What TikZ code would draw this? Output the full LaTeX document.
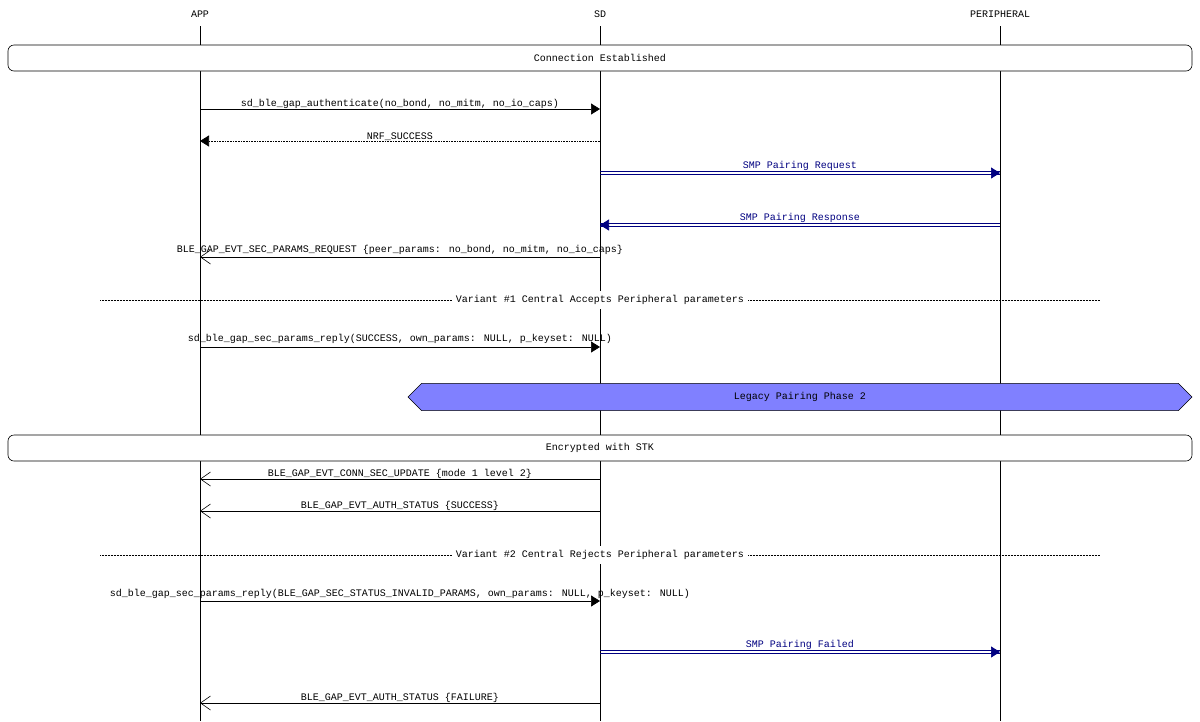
\documentclass[tikz,border=0pt]{standalone}
\usepackage{fontspec}
\setmainfont{Liberation Mono}
\usetikzlibrary{arrows.meta,shapes.misc,calc}
\definecolor{smp}{HTML}{000080}
\definecolor{phase}{HTML}{8080FF}
\tikzset{
  lbl/.style={font=\fontsize{10}{11}\selectfont, inner sep=1pt},
  msg/.style={-{Triangle[length=9pt,width=11pt]}},
  ret/.style={msg, densely dotted},
  evt/.style={-{Straight Barb[length=10pt,width=14pt,line width=0.6pt]}},
  smpline/.style={draw=smp, line width=0.6pt},
  smptip/.style={draw=smp, fill=smp, -{Triangle[length=9pt,width=11pt]}},
  bar/.style={draw, rounded corners=6pt, fill=white, line width=0.6pt},
}
\newcommand{\smpmsg}[3]{%
  \draw[smpline] ([yshift=1.5pt]#1) -- ([yshift=1.5pt]#2);
  \draw[smpline] ([yshift=-1.5pt]#1) -- ([yshift=-1.5pt]#2);
  \draw[smptip] ($(#2)!8pt!(#1)$) -- (#2);
  \node[lbl, text=smp] at ($(#1)!0.5!(#2)+(0,-7)$) {#3};
}
\begin{document}
\begin{tikzpicture}[x=1pt,y=-1pt, line width=0.6pt]
\useasboundingbox (0,0) rectangle (1200,721);
% lifelines
\foreach \n/\x/\t in {app/200/APP, sd/600/SD, per/1000/PERIPHERAL}{
  \node[lbl] (\n) at (\x,14) {\t};
  \coordinate (\n top) at (\x,26);
  \coordinate (\n bot) at (\x,721);
  \draw (\n top) -- (\n bot);
}
\node[bar, minimum width=1184pt, minimum height=26pt, lbl] (conn) at (600,58) {Connection Established};
\newcommand{\pt}[3]{\coordinate (#1) at (#2,#3);}
\pt{a1}{200}{109}\pt{s1}{600}{109}
\draw[msg] (a1) -- node[lbl, above=-1pt] {sd\_ble\_gap\_authenticate(no\_bond, no\_mitm, no\_io\_caps)} (s1);
\pt{a2}{200}{141}\pt{s2}{600}{141}
\draw[ret] (s2) -- node[lbl, above=-1pt] {NRF\_SUCCESS} (a2);
\pt{s3}{600}{173}\pt{p3}{1000}{173}
\smpmsg{s3}{p3}{SMP Pairing Request}
\pt{s4}{600}{225}\pt{p4}{1000}{225}
\smpmsg{p4}{s4}{SMP Pairing Response}
\pt{a5}{200}{257}\pt{s5}{600}{257}
\draw[evt] (s5) -- (a5);
\node[lbl] (t5) at (400,250) {BLE\_GAP\_EVT\_SEC\_PARAMS\_REQUEST \{peer\_params: no\_bond, no\_mitm, no\_io\_caps\}};
\pt{v1l}{100}{300}\pt{v1r}{1100}{300}
\draw[densely dotted, line width=0.5pt] (v1l) -- node[lbl, fill=white, inner sep=4pt] (v1) {Variant \#1 Central Accepts Peripheral parameters} (v1r);
\pt{a6}{200}{347}\pt{s6}{600}{347}
\draw[msg] (a6) -- (s6);
\node[lbl] (t6) at (400,339) {sd\_ble\_gap\_sec\_params\_reply(SUCCESS, own\_params: NULL, p\_keyset: NULL)};
\node[draw, fill=phase, chamfered rectangle, chamfered rectangle xsep=2cm, chamfered rectangle sep=8pt, chamfered rectangle corners={north west,south west,north east,south east}, minimum width=784pt, minimum height=26pt, lbl] (phase) at (800,397) {Legacy Pairing Phase 2};
\node[bar, minimum width=1184pt, minimum height=26pt, lbl] (enc) at (600,448) {Encrypted with STK};
\pt{a7}{200}{479}\pt{s7}{600}{479}
\draw[evt] (s7) -- node[lbl, above=-1pt] {BLE\_GAP\_EVT\_CONN\_SEC\_UPDATE \{mode 1 level 2\}} (a7);
\pt{a8}{200}{511}\pt{s8}{600}{511}
\draw[evt] (s8) -- node[lbl, above=-1pt] {BLE\_GAP\_EVT\_AUTH\_STATUS \{SUCCESS\}} (a8);
\pt{v2l}{100}{555}\pt{v2r}{1100}{555}
\draw[densely dotted, line width=0.5pt] (v2l) -- node[lbl, fill=white, inner sep=4pt] (v2) {Variant \#2 Central Rejects Peripheral parameters} (v2r);
\pt{a9}{200}{601}\pt{s9}{600}{601}
\draw[msg] (a9) -- (s9);
\node[lbl] (t9) at (400,594) {sd\_ble\_gap\_sec\_params\_reply(BLE\_GAP\_SEC\_STATUS\_INVALID\_PARAMS, own\_params: NULL, p\_keyset: NULL)};
\pt{s10}{600}{652}\pt{p10}{1000}{652}
\smpmsg{s10}{p10}{SMP Pairing Failed}
\pt{a11}{200}{703}\pt{s11}{600}{703}
\draw[evt] (s11) -- node[lbl, above=-1pt] {BLE\_GAP\_EVT\_AUTH\_STATUS \{FAILURE\}} (a11);
\end{tikzpicture}
\end{document}
